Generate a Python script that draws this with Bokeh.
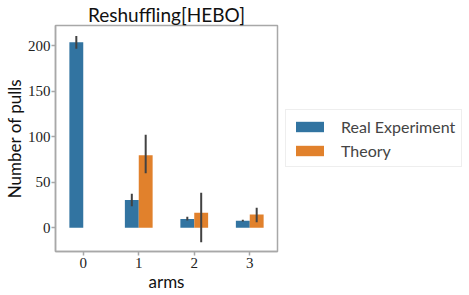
import math
from bokeh.plotting import figure
from bokeh.models import ColumnDataSource, Legend, LegendItem, FixedTicker, Range1d
from bokeh.transform import dodge
from bokeh.embed import file_html
from bokeh.resources import INLINE

arms = [0, 1, 2, 3]
real_mean = [203.5, 30.5, 9.8, 7.7]
real_lo = [196.5, 23.7, 8.0, 6.9]
real_hi = [210.5, 37.3, 12.0, 8.8]
theory_mean = [0.0, 79.6, 16.4, 14.6]
theory_lo = [float("nan"), 60.0, -15.8, 6.2]
theory_hi = [float("nan"), 102.0, 38.4, 22.0]
x_ticks = [0, 1, 2, 3]
y_ticks = [0, 50, 100, 150, 200]

BLUE = "#3274A1"
ORANGE = "#E1812C"
ERR = "#424242"
SPINE = "#a8a8a8"
SANS = "Lato"
SERIF = "Liberation Serif"

src = ColumnDataSource(dict(arm=arms, real=real_mean, rlo=real_lo, rhi=real_hi,
                            th=theory_mean, tlo=theory_lo, thi=theory_hi))

p = figure(frame_width=222, frame_height=226, output_backend="svg", toolbar_location=None,
           x_range=Range1d(-0.5, 3.5), y_range=Range1d(-26, 222),
           title="Reshuffling[HEBO]",
           min_border_left=0, min_border_top=0, min_border_bottom=0, min_border_right=0)

r1 = p.vbar(x=dodge("arm", -0.125, range=p.x_range), top="real", bottom=0, width=0.25,
            source=src, fill_color=BLUE, line_color=None)
r2 = p.vbar(x=dodge("arm", 0.125, range=p.x_range), top="th", bottom=0, width=0.25,
            source=src, fill_color=ORANGE, line_color=None)
p.segment(x0=dodge("arm", -0.125, range=p.x_range), x1=dodge("arm", -0.125, range=p.x_range),
          y0="rlo", y1="rhi", source=src, line_color=ERR, line_width=2)
p.segment(x0=dodge("arm", 0.125, range=p.x_range), x1=dodge("arm", 0.125, range=p.x_range),
          y0="tlo", y1="thi", source=src, line_color=ERR, line_width=2)

p.title.text_font = SANS
p.title.text_font_size = "19px"
p.title.text_font_style = "normal"
p.title.text_color = "#111111"
p.title.align = "center"
p.title.standoff = 0
p.title.offset = 0

p.xgrid.visible = False
p.ygrid.visible = False
p.outline_line_color = SPINE
p.outline_line_width = 1.5

for ax in (p.xaxis[0], p.yaxis[0]):
    ax.axis_line_color = SPINE
    ax.axis_line_width = 1.5
    ax.major_tick_line_color = SPINE
    ax.major_tick_line_width = 1.5
    ax.major_tick_in = 0
    ax.major_tick_out = 4
    ax.minor_tick_line_color = None
    ax.major_label_text_font = SERIF
    ax.major_label_text_font_size = "15px"
    ax.major_label_text_color = "#222222"
    ax.major_label_text_line_height = 1.0
    ax.axis_label_text_font = SANS
    ax.axis_label_text_font_size = "17px"
    ax.axis_label_text_font_style = "normal"
    ax.axis_label_text_color = "#111111"
    ax.axis_label_text_line_height = 1.0
    ax.axis_label_standoff = 0
p.yaxis.major_label_standoff = 1
p.xaxis.major_label_standoff = 2

p.xaxis.ticker = FixedTicker(ticks=x_ticks)
p.yaxis.ticker = FixedTicker(ticks=y_ticks)
p.xaxis.axis_label = "arms"
p.yaxis.axis_label = "Number of pulls"

legend = Legend(items=[LegendItem(label="Real Experiment", renderers=[r1]),
                       LegendItem(label="Theory", renderers=[r2])],
                location="center_left")
legend.label_text_font = SANS
legend.label_text_font_size = "16px"
legend.glyph_width = 35
legend.glyph_height = 13
legend.label_height = 20
legend.label_standoff = 14
legend.spacing = 4
legend.padding = 6
legend.margin = 8
legend.border_line_color = "#dddddd"
legend.border_line_width = 1
legend.background_fill_alpha = 1.0
p.add_layout(legend, "right")

open("out.html", "w").write(file_html(p, INLINE))
